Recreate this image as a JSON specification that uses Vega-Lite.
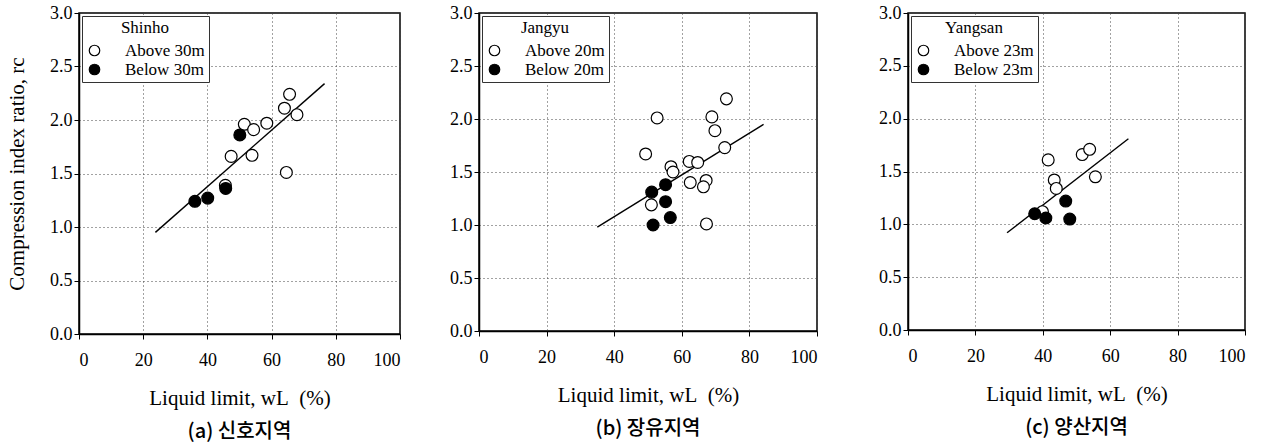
{
  "$schema": "https://vega.github.io/schema/vega-lite/v6.json",
  "background": "white",
  "padding": {"left": 5, "top": 3, "right": 5, "bottom": 0},
  "bounds": "flush",
  "spacing": 79,
  "config": {
    "view": {"stroke": "black", "strokeWidth": 1.5},
    "axis": {
      "labelFont": "Liberation Serif", "labelFontSize": 18, "labelColor": "black",
      "titleFont": "Liberation Serif", "titleFontSize": 21, "titleFontWeight": "normal", "titleColor": "black",
      "domainColor": "black", "domainWidth": 1.5, "tickColor": "black", "tickSize": 5,
      "grid": true, "gridColor": "#444", "gridDash": [1, 3], "gridWidth": 1
    },
    "legend": {
      "labelFont": "Liberation Serif", "labelFontSize": 17, "labelColor": "black",
      "titleFont": "Liberation Serif", "titleFontSize": 17, "titleFontWeight": "normal", "titleColor": "black",
      "orient": "top-left", "offset": 3, "padding": 4,
      "strokeColor": "#333", "fillColor": "white",
      "symbolType": "circle", "symbolSize": 110, "symbolStrokeColor": "black", "symbolStrokeWidth": 1.2,
      "labelOffset": 22, "rowPadding": 1
    },
    "title": {"font": "Noto Sans CJK KR", "fontSize": 20, "fontWeight": 500, "color": "black", "orient": "bottom", "anchor": "middle", "offset": 14}
  },
  "datasets": {
    "a_pts": [
      {"wl": 51.5, "rc": 1.96, "group": "Above 30m"},
      {"wl": 54.4, "rc": 1.91, "group": "Above 30m"},
      {"wl": 58.5, "rc": 1.97, "group": "Above 30m"},
      {"wl": 64.0, "rc": 2.11, "group": "Above 30m"},
      {"wl": 65.6, "rc": 2.24, "group": "Above 30m"},
      {"wl": 67.9, "rc": 2.05, "group": "Above 30m"},
      {"wl": 47.4, "rc": 1.66, "group": "Above 30m"},
      {"wl": 53.9, "rc": 1.67, "group": "Above 30m"},
      {"wl": 64.6, "rc": 1.51, "group": "Above 30m"},
      {"wl": 45.6, "rc": 1.39, "group": "Above 30m"},
      {"wl": 36.1, "rc": 1.24, "group": "Below 30m"},
      {"wl": 40.1, "rc": 1.27, "group": "Below 30m"},
      {"wl": 45.7, "rc": 1.36, "group": "Below 30m"},
      {"wl": 50.1, "rc": 1.86, "group": "Below 30m"}
    ],
    "a_line": [{"wl": 23.8, "rc": 0.95}, {"wl": 76.5, "rc": 2.34}],
    "b_pts": [
      {"wl": 52.7, "rc": 2.01, "group": "Above 20m"},
      {"wl": 49.3, "rc": 1.67, "group": "Above 20m"},
      {"wl": 73.2, "rc": 2.19, "group": "Above 20m"},
      {"wl": 68.9, "rc": 2.02, "group": "Above 20m"},
      {"wl": 69.8, "rc": 1.89, "group": "Above 20m"},
      {"wl": 72.7, "rc": 1.73, "group": "Above 20m"},
      {"wl": 62.2, "rc": 1.60, "group": "Above 20m"},
      {"wl": 64.7, "rc": 1.59, "group": "Above 20m"},
      {"wl": 56.8, "rc": 1.55, "group": "Above 20m"},
      {"wl": 57.4, "rc": 1.50, "group": "Above 20m"},
      {"wl": 62.5, "rc": 1.40, "group": "Above 20m"},
      {"wl": 67.2, "rc": 1.42, "group": "Above 20m"},
      {"wl": 66.4, "rc": 1.36, "group": "Above 20m"},
      {"wl": 51.0, "rc": 1.19, "group": "Above 20m"},
      {"wl": 67.3, "rc": 1.01, "group": "Above 20m"},
      {"wl": 51.1, "rc": 1.31, "group": "Below 20m"},
      {"wl": 55.2, "rc": 1.38, "group": "Below 20m"},
      {"wl": 55.2, "rc": 1.22, "group": "Below 20m"},
      {"wl": 56.6, "rc": 1.07, "group": "Below 20m"},
      {"wl": 51.5, "rc": 1.00, "group": "Below 20m"}
    ],
    "b_line": [{"wl": 35.0, "rc": 0.98}, {"wl": 84.2, "rc": 1.95}],
    "c_pts": [
      {"wl": 41.6, "rc": 1.61, "group": "Above 23m"},
      {"wl": 51.7, "rc": 1.66, "group": "Above 23m"},
      {"wl": 53.9, "rc": 1.71, "group": "Above 23m"},
      {"wl": 43.4, "rc": 1.42, "group": "Above 23m"},
      {"wl": 44.0, "rc": 1.34, "group": "Above 23m"},
      {"wl": 55.6, "rc": 1.45, "group": "Above 23m"},
      {"wl": 39.9, "rc": 1.12, "group": "Above 23m"},
      {"wl": 37.6, "rc": 1.10, "group": "Below 23m"},
      {"wl": 40.9, "rc": 1.06, "group": "Below 23m"},
      {"wl": 46.8, "rc": 1.22, "group": "Below 23m"},
      {"wl": 48.0, "rc": 1.05, "group": "Below 23m"}
    ],
    "c_line": [{"wl": 29.4, "rc": 0.92}, {"wl": 65.4, "rc": 1.81}]
  },
  "hconcat": [
    {
      "width": 321, "height": 321,
      "title": {"text": "(a) 신호지역"},
      "layer": [
        {
          "data": {"name": "a_line"},
          "mark": {"type": "line", "color": "black", "strokeWidth": 1.4},
          "encoding": {
            "x": {"field": "wl", "type": "quantitative", "scale": {"domain": [0, 100], "nice": false}, "axis": {"values": [0, 20, 40, 60, 80, 100], "title": "Liquid limit, wL\u00a0\u00a0(%)", "labelPadding": 12, "titlePadding": 18}},
            "y": {"field": "rc", "type": "quantitative", "scale": {"domain": [0, 3], "nice": false}, "axis": {"values": [0, 0.5, 1, 1.5, 2, 2.5, 3], "format": ".1f", "title": "Compression index ratio, rc", "titlePadding": 22}}
          }
        },
        {
          "data": {"name": "a_pts"},
          "mark": {"type": "point", "shape": "circle", "size": 140, "stroke": "black", "strokeWidth": 1.2, "opacity": 1, "fillOpacity": 1},
          "encoding": {
            "x": {"field": "wl", "type": "quantitative"},
            "y": {"field": "rc", "type": "quantitative"},
            "fill": {"field": "group", "type": "nominal", "scale": {"domain": ["Above 30m", "Below 30m"], "range": ["white", "black"]}, "legend": {"title": "Shinho", "titleAnchor": "middle", "titleAlign": "center", "titleFontSize": 17, "titleFont": "Liberation Serif"}}
          }
        }
      ]
    },
    {
      "bounds": "flush",
      "spacing": 91,
      "resolve": {"scale": {"fill": "independent"}, "legend": {"fill": "independent"}},
      "hconcat": [
        {
          "width": 338, "height": 318,
          "title": {"text": "(b) 장유지역"},
          "layer": [
            {
              "data": {"name": "b_line"},
              "mark": {"type": "line", "color": "black", "strokeWidth": 1.4},
              "encoding": {
                "x": {"field": "wl", "type": "quantitative", "scale": {"domain": [0, 100], "nice": false}, "axis": {"values": [0, 20, 40, 60, 80, 100], "title": "Liquid limit, wL\u00a0\u00a0(%)", "labelPadding": 12, "titlePadding": 18}},
                "y": {"field": "rc", "type": "quantitative", "scale": {"domain": [0, 3], "nice": false}, "axis": {"values": [0, 0.5, 1, 1.5, 2, 2.5, 3], "format": ".1f", "title": null}}
              }
            },
            {
              "data": {"name": "b_pts"},
              "mark": {"type": "point", "shape": "circle", "size": 140, "stroke": "black", "strokeWidth": 1.2, "opacity": 1, "fillOpacity": 1},
              "encoding": {
                "x": {"field": "wl", "type": "quantitative"},
                "y": {"field": "rc", "type": "quantitative"},
                "fill": {"field": "group", "type": "nominal", "scale": {"domain": ["Above 20m", "Below 20m"], "range": ["white", "black"]}, "legend": {"title": "Jangyu", "titleAnchor": "middle", "titleAlign": "center", "titleFontSize": 17, "titleFont": "Liberation Serif"}}
              }
            }
          ]
        },
        {
          "width": 337, "height": 317,
          "title": {"text": "(c) 양산지역"},
          "layer": [
            {
              "data": {"name": "c_line"},
              "mark": {"type": "line", "color": "black", "strokeWidth": 1.4},
              "encoding": {
                "x": {"field": "wl", "type": "quantitative", "scale": {"domain": [0, 100], "nice": false}, "axis": {"values": [0, 20, 40, 60, 80, 100], "title": "Liquid limit, wL\u00a0\u00a0(%)", "labelPadding": 12, "titlePadding": 18}},
                "y": {"field": "rc", "type": "quantitative", "scale": {"domain": [0, 3], "nice": false}, "axis": {"values": [0, 0.5, 1, 1.5, 2, 2.5, 3], "format": ".1f", "title": null}}
              }
            },
            {
              "data": {"name": "c_pts"},
              "mark": {"type": "point", "shape": "circle", "size": 140, "stroke": "black", "strokeWidth": 1.2, "opacity": 1, "fillOpacity": 1},
              "encoding": {
                "x": {"field": "wl", "type": "quantitative"},
                "y": {"field": "rc", "type": "quantitative"},
                "fill": {"field": "group", "type": "nominal", "scale": {"domain": ["Above 23m", "Below 23m"], "range": ["white", "black"]}, "legend": {"title": "Yangsan", "titleAnchor": "middle", "titleAlign": "center", "titleFontSize": 17, "titleFont": "Liberation Serif"}}
              }
            }
          ]
        }
      ]
    }
  ],
  "resolve": {"scale": {"fill": "independent"}, "legend": {"fill": "independent"}}
}
